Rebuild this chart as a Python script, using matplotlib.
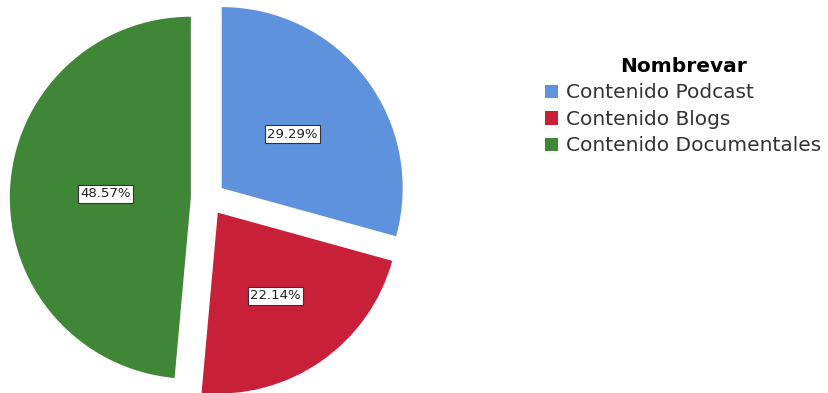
import numpy as np
import matplotlib.pyplot as plt
from matplotlib.patches import Patch

categories = ['Contenido Podcast', 'Contenido Blogs', 'Contenido Documentales']
percents = [29.29, 22.14, 48.57]
colors = ['#5f92dc', '#c9203a', '#3f8636']

W, H = 829, 393
fig = plt.figure(figsize=(W / 100, H / 100), dpi=100)

# pie centre around (208, 198) px, radius ~181 px
R = 181.0
cx, cy = 208.0, 198.5
lim = 1.2
side = 2 * lim * R
ax = fig.add_axes([(cx - side / 2) / W, (H - cy - side / 2) / H, side / W, side / H])

wedges, texts, autotexts = ax.pie(
    percents, colors=colors, startangle=90, counterclock=False,
    explode=[0.095] * 3, autopct='%.2f%%', pctdistance=0.5,
    textprops=dict(fontsize=9.5, color='#222222'))

# nudge each percentage label along its wedge's middle angle
label_r = [0.49, 0.56, 0.47]
for w, t, lr in zip(wedges, autotexts, label_r):
    mid = np.deg2rad((w.theta1 + w.theta2) / 2)
    x0, y0 = w.center
    t.set_position((x0 + lr * w.r * np.cos(mid), y0 + lr * w.r * np.sin(mid)))
    t.set_bbox(dict(boxstyle='square,pad=0.18', facecolor='white',
                    edgecolor='#333333', linewidth=0.8))
ax.set_xlim(-lim, lim)
ax.set_ylim(-lim, lim)
ax.set_aspect('equal')
ax.axis('off')

handles = [Patch(facecolor=c, edgecolor='none') for c in colors]
leg = fig.legend(handles, categories, title='Nombrevar',
                 loc='upper left', bbox_to_anchor=(545 / W, 1 - 57 / H),
                 frameon=False, fontsize=14.5, title_fontsize=14.5,
                 handlelength=0.65, handleheight=0.65, handletextpad=0.4,
                 labelspacing=0.37, borderpad=0, borderaxespad=0)
leg.get_title().set_fontweight('bold')
for t in leg.get_texts():
    t.set_color('#333333')

fig.savefig('out.png', dpi=100)
